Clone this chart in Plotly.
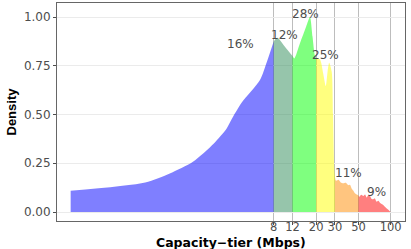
import plotly.graph_objects as go
import math

# ---- data ----
capacity_mbps = [0.1, 0.5, 0.85, 1.4, 2.2, 2.9, 3.2, 4.0, 5.95, 6.9, 8.0, 8.65, 10.2, 12.0, 12.5,
                 14.1, 16.1, 17.5, 18.5, 19.5, 20.0, 21.7, 23.3, 24.6, 25.6, 26.5, 28.0, 28.8,
                 29.6, 30.0, 30.7, 32.5, 34.0, 35.9, 38.0, 40.0, 41.5, 43.0, 44.5, 46.2, 48.0,
                 50.0, 50.7, 53.0, 55.3, 57.5, 59.5, 61.5, 63.9, 66.0, 68.6, 71.0, 73.8, 76.5,
                 79.3, 84.0, 88.3, 93.0, 97.0, 100.0]
density = [0.109, 0.152, 0.198, 0.258, 0.352, 0.429, 0.472, 0.56, 0.677, 0.77, 0.875, 0.894,
           0.848, 0.80, 0.788, 0.865, 0.95, 1.0, 0.9, 0.80, 0.79, 0.783, 0.71, 0.646, 0.72,
           0.766, 0.72, 0.5, 0.22, 0.18, 0.16, 0.165, 0.152, 0.147, 0.15, 0.138, 0.14, 0.121,
           0.11, 0.096, 0.09, 0.085, 0.078, 0.088, 0.082, 0.09, 0.075, 0.085, 0.082, 0.068,
           0.065, 0.07, 0.053, 0.058, 0.048, 0.038, 0.027, 0.015, 0.007, 0.0]

tier_bounds = [0.1, 8, 12, 20, 30, 50, 100]
tier_colors = ["rgba(0,0,255,0.5)", "rgba(46,139,87,0.5)", "rgba(0,255,0,0.5)",
               "rgba(255,255,0,0.5)", "rgba(255,140,0,0.5)", "rgba(255,0,0,0.5)"]
tier_labels = ["16%", "12%", "28%", "25%", "11%", "9%"]
label_x = [3.93, 10.0, 16.0, 24.7, 40.0, 74.0]
label_y = [0.862, 0.908, 1.015, 0.805, 0.20, 0.104]

x_ticks = [8, 12, 20, 30, 50, 100]
y_ticks = [0.0, 0.25, 0.5, 0.75, 1.0]

fig = go.Figure()
for i in range(len(tier_bounds) - 1):
    lo, hi = tier_bounds[i], tier_bounds[i + 1]
    xs = [x for x in capacity_mbps if lo <= x <= hi]
    ys = [d for x, d in zip(capacity_mbps, density) if lo <= x <= hi]
    fig.add_trace(go.Scatter(x=xs, y=ys, mode="lines", fill="tozeroy",
                             fillcolor=tier_colors[i],
                             line=dict(width=0, shape="spline", smoothing=0.7),
                             hoverinfo="skip", showlegend=False))

for t, lx, ly in zip(tier_labels, label_x, label_y):
    fig.add_annotation(x=math.log10(lx), y=ly, text=t, showarrow=False,
                       font=dict(family="DejaVu Sans", size=12, color="#4D4D4D"),
                       xanchor="center", yanchor="middle")

fig.add_annotation(x=0.5, y=-0.1, xref="paper", yref="paper", text="<b>Capacity−tier (Mbps)</b>",
                   showarrow=False, font=dict(family="DejaVu Sans", size=12.5, color="black"),
                   xanchor="center", yanchor="middle")
fig.add_annotation(x=-0.1336, y=0.5, xref="paper", yref="paper", text="<b>Density</b>",
                   showarrow=False, textangle=-90,
                   font=dict(family="Liberation Sans Narrow, Liberation Sans", size=13, color="black"),
                   xanchor="center", yanchor="middle")

fig.update_layout(
    width=411, height=249,
    margin=dict(l=57, r=6, t=3, b=28, autoexpand=False),
    plot_bgcolor="white", paper_bgcolor="white",
    xaxis=dict(type="log", range=[-1.128, 2.134], tickvals=x_ticks,
               ticktext=[str(v) for v in x_ticks],
               showgrid=True, gridcolor="#BDBDBD", gridwidth=1,
               ticks="outside", ticklen=3, tickcolor="#4D4D4D",
               ticklabelstandoff=-8,
               tickfont=dict(family="DejaVu Sans", size=11.5, color="#4D4D4D"),
               showline=True, linecolor="#666666", linewidth=1, mirror=True,
               zeroline=False),
    yaxis=dict(range=[-0.046, 1.072], tickvals=y_ticks,
               ticktext=["0.00", "0.25", "0.50", "0.75", "1.00"],
               showgrid=True, gridcolor="#EBEBEB", gridwidth=1,
               ticks="outside", ticklen=3, tickcolor="#4D4D4D",
               tickfont=dict(family="DejaVu Sans", size=12, color="#4D4D4D"),
               showline=True, linecolor="#666666", linewidth=1, mirror=True,
               zeroline=False),
)

fig.write_html("out.html", config={"displayModeBar": False},
               post_script="document.body.style.margin='0px';document.body.style.overflow='hidden';")
